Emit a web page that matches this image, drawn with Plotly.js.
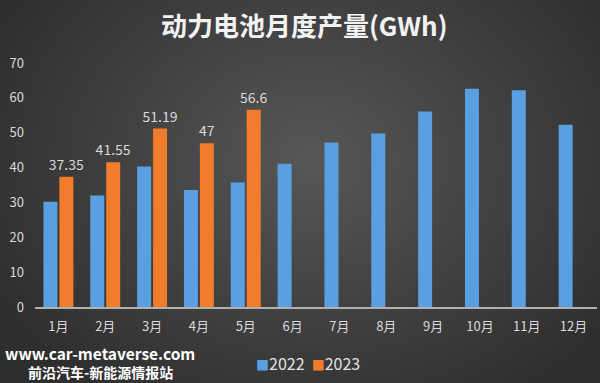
<!DOCTYPE html>
<html>
<head>
<meta charset="utf-8">
<script src="https://cdn.plot.ly/plotly-3.0.1.min.js"></script>
<style>
html,body{margin:0;padding:0;}
#chart{width:600px;height:383px;background:radial-gradient(ellipse 60% 75% at 52% 42%, #575757 0%, #444444 45%, #2e2e2e 100%);}
</style>
</head>
<body>
<div id="chart"></div>
<script>
const months = ["1月","2月","3月","4月","5月","6月","7月","8月","9月","10月","11月","12月"];
const values2022 = [30.2, 32.0, 40.3, 33.6, 35.7, 41.1, 47.2, 49.8, 56.1, 62.6, 62.2, 52.3];
const months2023 = ["1月","2月","3月","4月","5月"];
const values2023 = [37.35, 41.55, 51.19, 47, 56.6];
const labels2023 = ["37.35","41.55","51.19","47","56.6"];
const seriesNames = ["2022", "2023"];
const seriesColors = ['#5a9fe0', '#f07c2c'];

const FONT = '"Noto Sans CJK SC", "Noto Sans", sans-serif';

const traces = [
  {
    type: 'bar', name: seriesNames[0], x: months, y: values2022,
    marker: {color: seriesColors[0]},
    hoverinfo: 'none'
  },
  {
    type: 'bar', name: seriesNames[1], x: months2023, y: values2023,
    marker: {color: seriesColors[1]},
    text: labels2023, textposition: 'outside', constraintext: 'none',
    textfont: {family: FONT, size: 14, color: '#d9d9d9'},
    cliponaxis: false,
    hoverinfo: 'none'
  }
];

const legendText = seriesNames.map((n, i) =>
  '<span style="color:' + seriesColors[i] + ';font-size:13px">■</span>' + n).join('  ');

const layout = {
  width: 600, height: 383,
  margin: {l: 35, r: 3, t: 63, b: 76},
  paper_bgcolor: 'rgba(0,0,0,0)',
  plot_bgcolor: 'rgba(0,0,0,0)',
  barmode: 'group',
  bargap: 0.32,
  bargroupgap: 0.12,
  font: {family: FONT, color: '#d9d9d9', size: 13},
  showlegend: false,
  xaxis: {
    categoryorder: 'array', categoryarray: months,
    showline: true, linecolor: '#b0b0b0', linewidth: 2,
    showgrid: false, zeroline: false, ticks: '',
    tickfont: {family: FONT, size: 13, color: '#d9d9d9'},
    ticklabelstandoff: 6
  },
  yaxis: {
    range: [0, 70], dtick: 10, tick0: 0,
    showgrid: false, zeroline: false, showline: false, ticks: '',
    tickfont: {family: FONT, size: 13, color: '#d9d9d9'},
    ticklabelstandoff: 10
  },
  annotations: [
    {
      text: '<b>动力电池月度产量(GWh)</b>', xref: 'paper', yref: 'paper',
      x: 0.48, y: 1.156, xanchor: 'center', yanchor: 'middle', showarrow: false,
      font: {family: FONT, size: 26, color: '#f2f2f2'}
    },
    {
      text: '<b>www.car-metaverse.com</b>', xref: 'paper', yref: 'paper',
      x: 0.1157, y: -0.189, xanchor: 'center', yanchor: 'middle', showarrow: false,
      font: {family: FONT, size: 15.5, color: '#ffffff'}
    },
    {
      text: '<b>前沿汽车-新能源情报站</b>', xref: 'paper', yref: 'paper',
      x: 0.1157, y: -0.268, xanchor: 'center', yanchor: 'middle', showarrow: false,
      font: {family: FONT, size: 14, color: '#ffffff'}
    },
    {
      text: legendText, xref: 'paper', yref: 'paper',
      x: 0.485, y: -0.228, xanchor: 'center', yanchor: 'middle', showarrow: false,
      font: {family: FONT, size: 16, color: '#e0e0e0'}
    }
  ]
};

Plotly.newPlot('chart', traces, layout, {displayModeBar: false, staticPlot: true});
</script>
</body>
</html>
